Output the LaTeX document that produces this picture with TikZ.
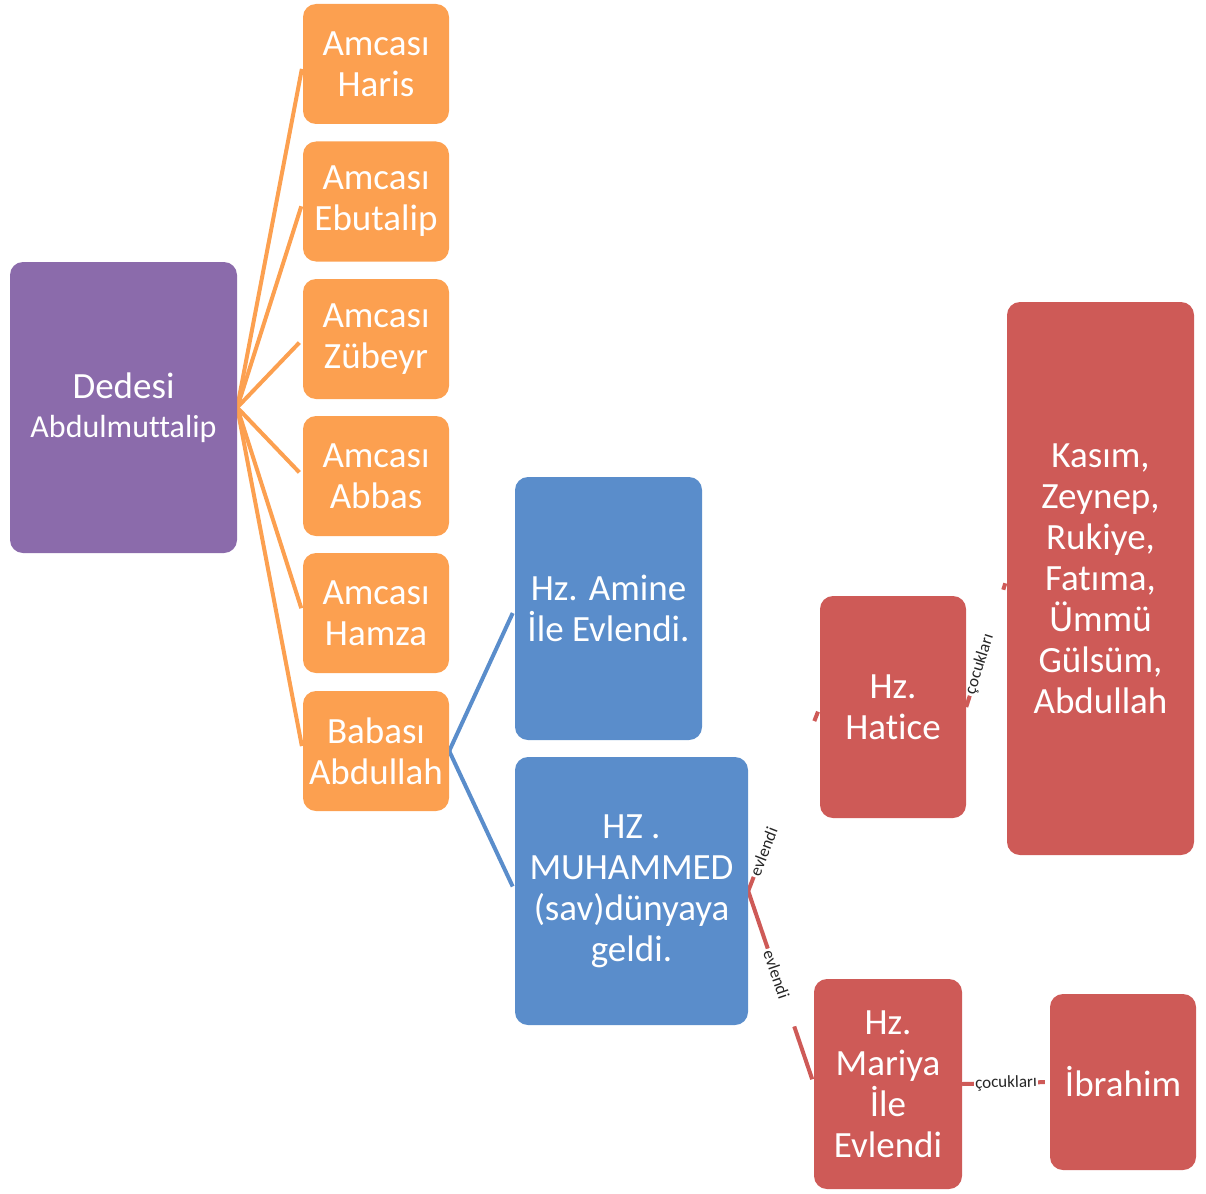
\documentclass[tikz,border=0pt]{standalone}
\usepackage{fontspec}
\setmainfont{Carlito}[Ligatures=NoCommon]
\usetikzlibrary{backgrounds}
\definecolor{mor}{HTML}{8B6BAB}
\definecolor{turuncu}{HTML}{FCA050}
\definecolor{mavi}{HTML}{5A8DCB}
\definecolor{kirmizi}{HTML}{CE5A57}
\begin{document}
\begin{tikzpicture}[x=1pt,y=-1pt,
    kutu/.style={rounded corners=13pt, text=white, align=center, inner sep=0pt,
      font=\fontsize{37}{41}\selectfont},
    dedekutu/.style={kutu, fill=mor, minimum width=227pt, minimum height=291pt},
    amcakutu/.style={kutu, fill=turuncu, minimum width=146pt, minimum height=120pt},
    mavikutu/.style={kutu, fill=mavi},
    kirmizikutu/.style={kutu, fill=kirmizi},
    kol/.style={line width=4pt, shorten >=5pt},
    etiket/.style={midway, sloped, fill=white, inner sep=2pt, align=left,
      text=black!85, font=\fontsize{17}{20}\selectfont}]
  \useasboundingbox (0,0) rectangle (1206,1193);
  \node[dedekutu] (dede) at (123.5,407.5) {Dedesi\\[-2pt]{\fontsize{32}{37}\selectfont Abdulmuttalip}};
  \node[amcakutu] (haris) at (376,64) {Amcası\\Haris};
  \node[amcakutu] (ebutalip) at (376,201.5) {Amcası\\Ebutalip};
  \node[amcakutu] (zubeyr) at (376,339) {Amcası\\Zübeyr};
  \node[amcakutu] (abbas) at (376,476) {Amcası\\Abbas};
  \node[amcakutu] (hamza) at (376,613) {Amcası\\Hamza};
  \node[amcakutu] (baba) at (376,751) {Babası\\Abdullah};
  \node[mavikutu, minimum width=187pt, minimum height=263pt] (amine) at (608.5,608.5) {Hz. Amine\\İle Evlendi.};
  \node[mavikutu, minimum width=233pt, minimum height=268pt] (muhammed) at (631.5,891) {HZ .\\MUHAMMED\\(sav)dünyaya\\geldi.};
  \node[kirmizikutu, minimum width=146pt, minimum height=222pt] (hatice) at (893,707) {Hz.\\Hatice};
  \node[kirmizikutu, minimum width=187pt, minimum height=553pt] (kasim) at (1100.5,578.5) {Kasım,\\Zeynep,\\Rukiye,\\Fatıma,\\Ümmü\\Gülsüm,\\Abdullah};
  \node[kirmizikutu, minimum width=148pt, minimum height=210pt] (mariya) at (888,1084) {Hz.\\Mariya\\İle\\Evlendi};
  \node[kirmizikutu, minimum width=146pt, minimum height=176pt] (ibrahim) at (1123,1082) {İbrahim};
  \begin{scope}[on background layer]
    \draw[kol, turuncu] (dede.east) -- (haris.west);
    \draw[kol, turuncu] (dede.east) -- (ebutalip.west);
    \draw[kol, turuncu] (dede.east) -- (zubeyr.west);
    \draw[kol, turuncu] (dede.east) -- (abbas.west);
    \draw[kol, turuncu] (dede.east) -- (hamza.west);
    \draw[kol, turuncu] (dede.east) -- (baba.west);
    \draw[kol, mavi] (baba.east) -- (amine.west);
    \draw[kol, mavi] (baba.east) -- (muhammed.west);
    \draw[kol, kirmizi] (muhammed.east) -- node[etiket, text width=163pt] {evlendi} (hatice.west);
    \draw[kol, kirmizi] (muhammed.east) -- node[etiket, text width=78pt] {evlendi} (mariya.west);
    \draw[kol, kirmizi] (hatice.east) -- node[etiket, text width=107pt] {çocukları} (kasim.west);
    \draw[kol, kirmizi] (mariya.east) -- node[etiket, inner sep=1pt] {çocukları} (ibrahim.west);
  \end{scope}
\end{tikzpicture}
\end{document}
